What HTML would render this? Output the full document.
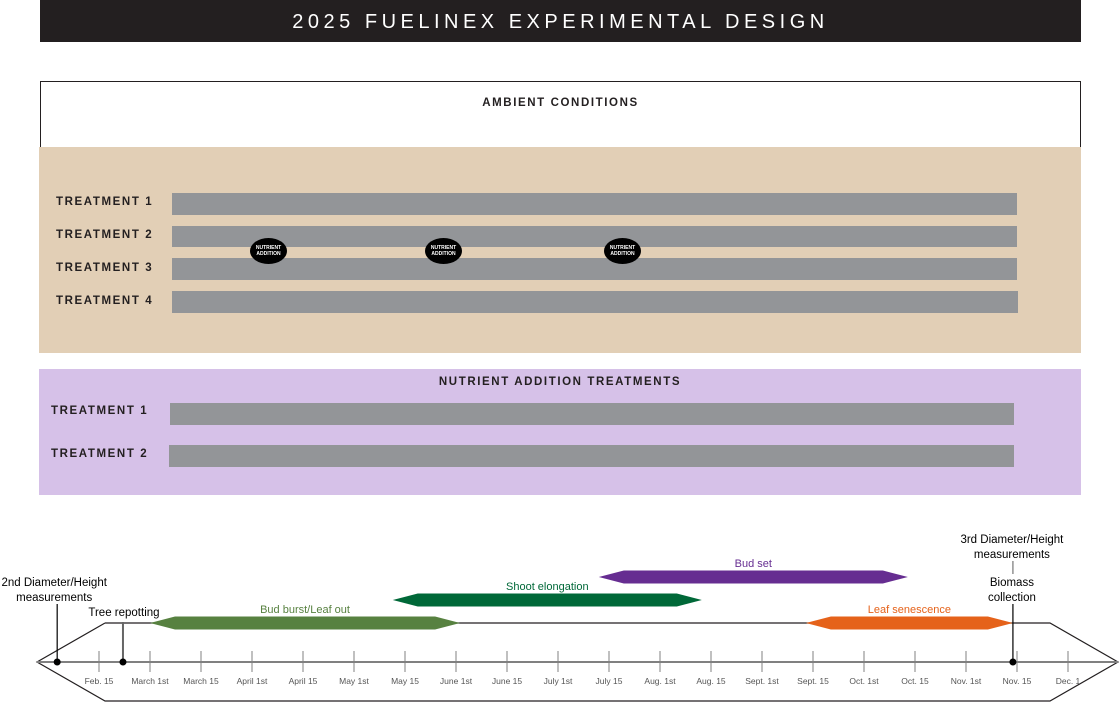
<!DOCTYPE html>
<html><head><meta charset="utf-8"><style>
body{margin:0;width:1120px;height:703px;background:#fff;font-family:"Liberation Sans",sans-serif;position:relative;overflow:hidden}
.abs{position:absolute}
.lbl{position:absolute;font-weight:bold;font-size:11.5px;letter-spacing:1.6px;color:#231f20}
.bar{position:absolute;background:#939598}
.oval{position:absolute;width:37px;height:26px;border-radius:50%;background:#000;color:#fff;font-size:5px;font-weight:bold;text-align:center;line-height:6px;display:flex;align-items:center;justify-content:center}
</style></head><body>
<div class="abs" style="left:40px;top:0;width:1041px;height:42px;background:#231f20;color:#fff;font-size:20px;letter-spacing:4.5px;text-align:center;line-height:44px">2025 FUELINEX EXPERIMENTAL DESIGN</div>
<div class="abs" style="left:40px;top:81px;width:1039px;height:70px;border:1px solid #231f20;border-bottom:none"></div>
<div class="lbl" style="left:40px;width:1041px;top:97px;text-align:center">AMBIENT CONDITIONS</div>
<div class="abs" style="left:39px;top:147px;width:1042px;height:206px;background:#e2cfb6"></div>
<div class="lbl" style="left:56px;top:196px">TREATMENT 1</div>
<div class="lbl" style="left:56px;top:229px">TREATMENT 2</div>
<div class="lbl" style="left:56px;top:262px">TREATMENT 3</div>
<div class="lbl" style="left:56px;top:295px">TREATMENT 4</div>
<div class="bar" style="left:172px;top:193px;width:845px;height:22px"></div>
<div class="bar" style="left:172px;top:226px;width:845px;height:21px"></div>
<div class="bar" style="left:172px;top:258px;width:845px;height:22px"></div>
<div class="bar" style="left:172px;top:291px;width:846px;height:22px"></div>
<div class="oval" style="left:250px;top:238px">NUTRIENT<br>ADDITION</div>
<div class="oval" style="left:425px;top:238px">NUTRIENT<br>ADDITION</div>
<div class="oval" style="left:604px;top:238px">NUTRIENT<br>ADDITION</div>
<div class="abs" style="left:39px;top:369px;width:1042px;height:126px;background:#d6c1e8"></div>
<div class="lbl" style="left:39px;width:1042px;top:376px;text-align:center">NUTRIENT ADDITION TREATMENTS</div>
<div class="lbl" style="left:51px;top:405px">TREATMENT 1</div>
<div class="lbl" style="left:51px;top:448px">TREATMENT 2</div>
<div class="bar" style="left:170px;top:403px;width:844px;height:22px"></div>
<div class="bar" style="left:169px;top:445px;width:845px;height:22px"></div>
<svg id="tl" class="abs" style="left:0;top:0" width="1120" height="703"></svg>
<script>
const tickLabels=["Feb. 15","March 1st","March 15","April 1st","April 15","May 1st","May 15","June 1st","June 15","July 1st","July 15","Aug. 1st","Aug. 15","Sept. 1st","Sept. 15","Oct. 1st","Oct. 15","Nov. 1st","Nov. 15","Dec. 1"];
const phaseNames=["Bud burst/Leaf out","Shoot elongation","Bud set","Leaf senescence"];
const phaseStart=[1.0,5.76,9.8,13.86];
const phaseEnd=[7.08,11.82,15.86,17.92];
const phaseRow=[0,1,2,0];
const phaseColors=["#578140","#006838","#662d91","#e5621a"];
const markerNames=["2nd Diameter/Height measurements","Tree repotting","Biomass collection"];
const markerPos=[-0.82,0.47,17.92];
const svg=document.getElementById('tl');const NS="http://www.w3.org/2000/svg";
const X=i=>99+i*51.0, AY=662;
const rowY=r=>623-r*23;
function mk(t,a){const e=document.createElementNS(NS,t);for(const k in a)e.setAttribute(k,a[k]);svg.appendChild(e);return e;}
let o=mk('polyline',{points:"105,623 37,662 105,701 1050,701 1118,662 1050,623 105,623",fill:"none",stroke:"#231f20","stroke-width":1.2});

let ax=mk('line',{x1:37,x2:1118,y1:AY,y2:AY,stroke:"#808080","stroke-width":2});

tickLabels.forEach((l,i)=>{
 let t=mk('line',{x1:X(i),x2:X(i),y1:651,y2:672,stroke:"#808080","stroke-width":1});
 
 let tx=mk('text',{x:X(i),y:684,"text-anchor":"middle","font-size":8.5,fill:"#555","font-family":"Liberation Sans"});tx.textContent=l;
 
});
phaseNames.forEach((n,k)=>{
 const x1=X(phaseStart[k]),x2=X(phaseEnd[k]),y=rowY(phaseRow[k]),h=6.5,p=25;
 let pg=mk('polygon',{points:`${x1},${y} ${x1+p},${y-h} ${x2-p},${y-h} ${x2},${y} ${x2-p},${y+h} ${x1+p},${y+h}`,fill:phaseColors[k]});
 
 let tx=mk('text',{x:(x1+x2)/2,y:y-10,"text-anchor":"middle","font-size":11,fill:phaseColors[k],"font-family":"Liberation Sans"});tx.textContent=n;
 
});
const mTops=[604,622,604];
markerPos.forEach((m,k)=>{
 const x=X(m);
 let ln=mk('line',{x1:x,x2:x,y1:mTops[k],y2:AY,stroke:k==1?"#666":"#000","stroke-width":k==1?2:1.2});
 
 let c=mk('circle',{cx:x,cy:AY,r:3.5,fill:"#000"});
 
});
function txt(s,x,y){let t=mk('text',{x:x,y:y,"text-anchor":"middle","font-size":11.5,fill:"#000","font-family":"Liberation Sans"});t.textContent=s;}
txt("2nd Diameter/Height",X(markerPos[0])-3,586);txt("measurements",X(markerPos[0])-3,601);
txt("Tree repotting",X(markerPos[1])+1,616);
txt("3rd Diameter/Height",X(markerPos[2])-1,543);txt("measurements",X(markerPos[2])-1,558);
txt("Biomass",X(markerPos[2])-1,586);txt("collection",X(markerPos[2])-1,601);
let mc=mk('line',{x1:X(markerPos[2]),x2:X(markerPos[2]),y1:561,y2:574,stroke:"#777","stroke-width":1.2});

</script>
</body></html>
